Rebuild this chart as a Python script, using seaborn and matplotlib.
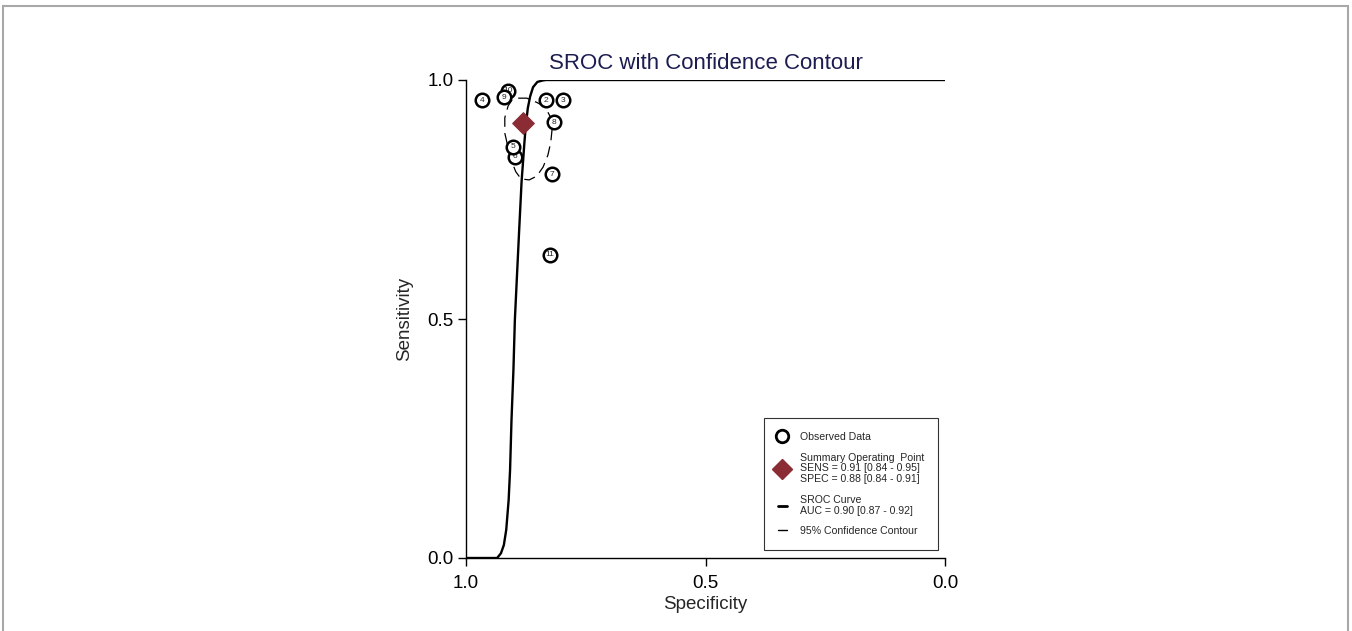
import pandas as pd
import matplotlib
matplotlib.use("Agg")
from matplotlib import pyplot as plt
from matplotlib.lines import Line2D
from matplotlib.patches import Rectangle
import seaborn as sns

# observed studies
study_ids = [2, 3, 4, 5, 6, 7, 8, 9, 10, 11]
study_spec = [0.833, 0.797, 0.967, 0.902, 0.898, 0.820, 0.816, 0.921, 0.912, 0.825]
study_sens = [0.958, 0.958, 0.958, 0.860, 0.839, 0.803, 0.912, 0.964, 0.977, 0.634]

# summary operating point
summary_spec = [0.88]
summary_sens = [0.91]

# SROC curve, traced
sroc_spec = [1.0, 0.935, 0.927, 0.921, 0.916, 0.911, 0.908, 0.905, 0.901, 0.898,
             0.894, 0.889, 0.884, 0.881, 0.878, 0.875, 0.871, 0.866, 0.860, 0.851,
             0.840, 0.833, 0.0]
sroc_sens = [0.0, 0.0, 0.010, 0.027, 0.059, 0.121, 0.184, 0.289, 0.393, 0.498,
             0.582, 0.686, 0.787, 0.828, 0.870, 0.906, 0.941, 0.966, 0.985, 0.996,
             0.999, 1.0, 1.0]

# 95% confidence contour, traced
contour_spec = [0.891, 0.873, 0.852, 0.835, 0.825, 0.820, 0.823, 0.829, 0.839, 0.852,
                0.868, 0.885, 0.896, 0.904, 0.912, 0.919, 0.919, 0.912, 0.904, 0.891]
contour_sens = [0.962, 0.962, 0.953, 0.944, 0.925, 0.900, 0.870, 0.843, 0.818, 0.799,
                0.791, 0.793, 0.808, 0.828, 0.858, 0.889, 0.921, 0.946, 0.958, 0.962]

legend_labels = [
    "Observed Data",
    "Summary Operating  Point\nSENS = 0.91 [0.84 - 0.95]\nSPEC = 0.88 [0.84 - 0.91]",
    "SROC Curve\nAUC = 0.90 [0.87 - 0.92]",
    "95% Confidence Contour",
]


def main():
    sns.set_style("ticks")
    plt.rcParams["font.family"] = ["Liberation Sans", "DejaVu Sans"]

    studies = pd.DataFrame({"id": study_ids, "spec": study_spec, "sens": study_sens})
    studies = studies.sort_values("id", ascending=False)
    sroc = pd.DataFrame({"spec": sroc_spec, "sens": sroc_sens})
    contour = pd.DataFrame({"spec": contour_spec, "sens": contour_sens})
    summary = pd.DataFrame({"spec": summary_spec, "sens": summary_sens})

    fig = plt.figure(figsize=(13.52, 6.31), dpi=100)
    ax = fig.add_axes([466 / 1352, 1 - 558 / 631, 479 / 1352, 478 / 631])

    sns.lineplot(data=sroc, x="spec", y="sens", sort=False, estimator=None,
                 color="black", lw=1.7, ax=ax, zorder=2)
    sns.lineplot(data=contour, x="spec", y="sens", sort=False, estimator=None,
                 color="black", lw=0.9, ax=ax, zorder=2)
    ax.lines[-1].set_dashes((9, 5))
    sns.scatterplot(data=summary, x="spec", y="sens", marker="D", s=120,
                    color="#8B2C34", edgecolor="#8B2C34", ax=ax, zorder=3)

    # numbered study circles, drawn high to low so the lower ids sit on top
    zo = 4
    for _, r in studies.iterrows():
        ax.scatter(r["spec"], r["sens"], s=95, facecolor="white", edgecolor="black",
                   linewidth=1.8, zorder=zo, clip_on=False)
        ax.text(r["spec"], r["sens"], str(int(r["id"])), ha="center", va="center",
                fontsize=6, zorder=zo + 0.5)
        zo += 1

    ax.set_xlim(1.0, 0.0)
    ax.set_ylim(0.0, 1.0)
    ax.set_xticks([1.0, 0.5, 0.0])
    ax.set_xticklabels(["1.0", "0.5", "0.0"])
    ax.set_yticks([0.0, 0.5, 1.0])
    ax.set_yticklabels(["0.0", "0.5", "1.0"])
    ax.tick_params(axis="both", labelsize=13.5, length=6, width=1, color="black",
                   direction="out", labelcolor="black")
    ax.tick_params(axis="x", pad=6)
    ax.tick_params(axis="y", pad=3)
    sns.despine(ax=ax)
    for s in ("left", "bottom"):
        ax.spines[s].set_linewidth(1.0)
        ax.spines[s].set_color("black")
    ax.set_xlabel("Specificity", fontsize=13.5, labelpad=3)
    ax.set_ylabel("Sensitivity", fontsize=13.5, labelpad=10)
    ax.set_title("SROC with Confidence Contour", fontsize=16, color="#1C1C50", pad=8)

    handles = [
        Line2D([], [], ls="none", marker="o", ms=9, mfc="white", mec="black", mew=2),
        Line2D([], [], ls="none", marker="D", ms=10, mfc="#8B2C34", mec="#8B2C34"),
        Line2D([], [], color="black", lw=2),
        Line2D([], [], color="black", lw=1),
    ]
    leg = ax.legend(handles, legend_labels, loc="lower right",
                    bbox_to_anchor=(0.985, 0.017), fontsize=7.6, frameon=True,
                    fancybox=False, edgecolor="black", handlelength=0.9,
                    handletextpad=1.2, labelspacing=1.0, borderpad=1.3,
                    borderaxespad=0)
    leg.get_frame().set_linewidth(0.8)
    for t in leg.get_texts():
        t.set_linespacing(1.1)

    fig.patches.append(Rectangle((3 / 1352, -0.1), 1345 / 1352, 1.1 - 6 / 631,
                                 transform=fig.transFigure, fill=False,
                                 edgecolor="#A8A8A8", lw=1.5, clip_on=False))

    fig.savefig("out.png", dpi=100)


if __name__ == '__main__':
    main()
